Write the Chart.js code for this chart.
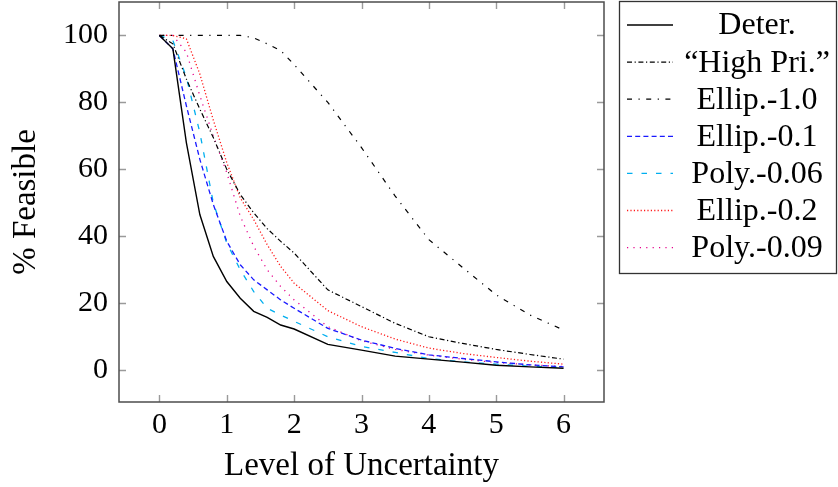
<!DOCTYPE html>
<html>
<head>
<meta charset="utf-8">
<script src="https://cdn.jsdelivr.net/npm/chart.js@4.4.1/dist/chart.umd.min.js"></script>
<style>
  html, body { margin: 0; padding: 0; background: #fff; }
  #wrap { width: 838px; height: 487px; position: relative; }
</style>
</head>
<body>
<div id="wrap"><canvas id="c" width="838" height="487"></canvas></div>
<script>
// ---- data ----
const levels   = [0, 0.2, 0.4, 0.6, 0.8, 1.0, 1.2, 1.4, 1.6, 1.8, 2.0, 2.5, 3.0, 3.5, 4.0, 4.5, 5.0, 5.5, 6.0];
const deter    = [100, 96, 68, 46.5, 34, 26.5, 21.5, 17.6, 15.8, 13.5, 12.3, 7.7, 6.0, 4.2, 3.3, 2.4, 1.5, 1.0, 0.6];
const highPri  = [100, 97.5, 87, 78, 69.5, 60, 52.5, 47, 42.3, 38.5, 35, 24, 19, 14, 10, 8, 6.2, 4.7, 3.3];
const ellip10  = [100, 100, 100, 100, 100, 100, 100, 99.3, 97.5, 95.5, 91.3, 80, 66.5, 52, 39, 30.7, 22.5, 16.5, 12];
const ellip01  = [100, 96, 79, 63, 49.5, 38.5, 31.5, 27, 24, 21, 18.5, 12.5, 9, 6.5, 4.6, 3.5, 2.5, 1.6, 1.0];
const poly006  = [100, 98.5, 87.5, 71, 50, 38, 30, 23.5, 18.5, 16.5, 14.6, 10, 7.1, 5.3, 3.5, 2.5, 1.8, 1.2, 0.8];
const ellip02  = [100, 100, 99, 88.5, 74.7, 62, 51.5, 45, 37.5, 31, 26, 17.8, 13, 9.3, 6.6, 5, 3.8, 2.7, 1.8];
const poly009  = [100, 100, 95, 82, 70, 59, 46, 37, 30, 25, 21, 13, 8.8, 6.2, 4.5, 3.3, 2.3, 1.6, 1.1];
const seriesLabels = ['Deter.', '\u201CHigh Pri.\u201D', 'Ellip.-1.0', 'Ellip.-0.1', 'Poly.-0.06', 'Ellip.-0.2', 'Poly.-0.09'];
const xTicks = [0, 1, 2, 3, 4, 5, 6];
const yTicks = [0, 20, 40, 60, 80, 100];
const xTitle = 'Level of Uncertainty';
const yTitle = '% Feasible';

// ---- styles ----
const FONT = '"Liberation Serif", "Times New Roman", serif';
const styles = [
  { color: '#000000', dash: [], width: 1.4 },
  { color: '#000000', dash: [5, 2.6, 1.2, 2.6], width: 1.2 },
  { color: '#000000', dash: [5, 6.5, 1.2, 6.5], width: 1.2 },
  { color: '#1a1aff', dash: [5, 3.2], width: 1.3 },
  { color: '#00aeef', dash: [5.5, 9], width: 1.3 },
  { color: '#ff1a1a', dash: [1.2, 2.2], width: 1.3 },
  { color: '#e6008c', dash: [1.2, 5.2], width: 1.3 }
];
const seriesValues = [deter, highPri, ellip10, ellip01, poly006, ellip02, poly009];

const datasets = seriesValues.map((vals, i) => ({
  label: seriesLabels[i],
  data: vals.map((y, k) => ({ x: levels[k], y: y })),
  borderColor: styles[i].color,
  borderDash: styles[i].dash,
  borderWidth: styles[i].width,
  borderCapStyle: 'butt',
  pointRadius: 0,
  tension: 0,
  fill: false
}));

// inward ticks + frame + custom legend
const framePlugin = {
  id: 'frame',
  afterDatasetsDraw(chart) {
    const { ctx, chartArea: a, scales } = chart;
    ctx.save();
    ctx.setLineDash([]);
    ctx.strokeStyle = '#9a9a9a';
    ctx.lineWidth = 1.4;
    const L = 7;
    xTicks.forEach(v => {
      const px = Math.round(scales.x.getPixelForValue(v)) + 0.5;
      ctx.beginPath();
      ctx.moveTo(px, a.bottom); ctx.lineTo(px, a.bottom - L);
      ctx.moveTo(px, a.top); ctx.lineTo(px, a.top + L);
      ctx.stroke();
    });
    yTicks.forEach(v => {
      const py = Math.round(scales.y.getPixelForValue(v)) + 0.5;
      ctx.beginPath();
      ctx.moveTo(a.left, py); ctx.lineTo(a.left + L, py);
      ctx.moveTo(a.right, py); ctx.lineTo(a.right - L, py);
      ctx.stroke();
    });
    ctx.strokeStyle = '#4d4d4d';
    ctx.lineWidth = 1.5;
    ctx.strokeRect(a.left, a.top, a.right - a.left, a.bottom - a.top);

    // legend
    const bx = 619, by = 1, bw = 218, bh = 272;
    ctx.strokeStyle = '#333';
    ctx.lineWidth = 1.3;
    ctx.strokeRect(bx + 0.5, by + 0.5, bw - 1, bh);
    ctx.font = '32px ' + FONT;
    ctx.textAlign = 'center';
    ctx.textBaseline = 'middle';
    chart.data.datasets.forEach((ds, i) => {
      const y = 25 + i * 37.1;
      ctx.beginPath();
      ctx.setLineDash(ds.borderDash);
      ctx.strokeStyle = ds.borderColor;
      ctx.lineWidth = ds.borderWidth;
      ctx.moveTo(627, y); ctx.lineTo(673, y);
      ctx.stroke();
      ctx.setLineDash([]);
      ctx.fillStyle = '#000';
      ctx.fillText(ds.label, 757, y + 1);
    });
    ctx.restore();
  }
};

new Chart(document.getElementById('c'), {
  type: 'line',
  data: { datasets },
  options: {
    responsive: false,
    animation: false,
    events: [],
    layout: { padding: { top: 2, right: 234, left: 0, bottom: 0 } },
    plugins: { legend: { display: false }, tooltip: { enabled: false } },
    scales: {
      x: {
        type: 'linear',
        min: -0.6, max: 6.6,
        grid: { display: false, drawTicks: false },
        border: { display: false },
        afterBuildTicks: s => { s.ticks = xTicks.map(v => ({ value: v })); },
        afterFit: s => { s.height = 85; s.paddingLeft = 0; s.paddingRight = 0; },
        ticks: { color: '#000', font: { family: FONT, size: 30 }, padding: 5, maxRotation: 0, autoSkip: false },
        title: { display: true, text: xTitle, color: '#000', font: { family: FONT, size: 33 }, padding: { top: 0, bottom: 1 } }
      },
      y: {
        type: 'linear',
        min: -9.5, max: 110,
        grid: { display: false, drawTicks: false },
        border: { display: false },
        afterBuildTicks: s => { s.ticks = yTicks.map(v => ({ value: v })); },
        afterFit: s => { s.width = 119; s.paddingTop = 0; s.paddingBottom = 0; },
        ticks: { color: '#000', font: { family: FONT, size: 30 }, padding: 11, autoSkip: false },
        title: { display: true, text: yTitle, color: '#000', font: { family: FONT, size: 33 }, padding: { top: 7, bottom: 0 } }
      }
    }
  },
  plugins: [framePlugin]
});
</script>
</body>
</html>
